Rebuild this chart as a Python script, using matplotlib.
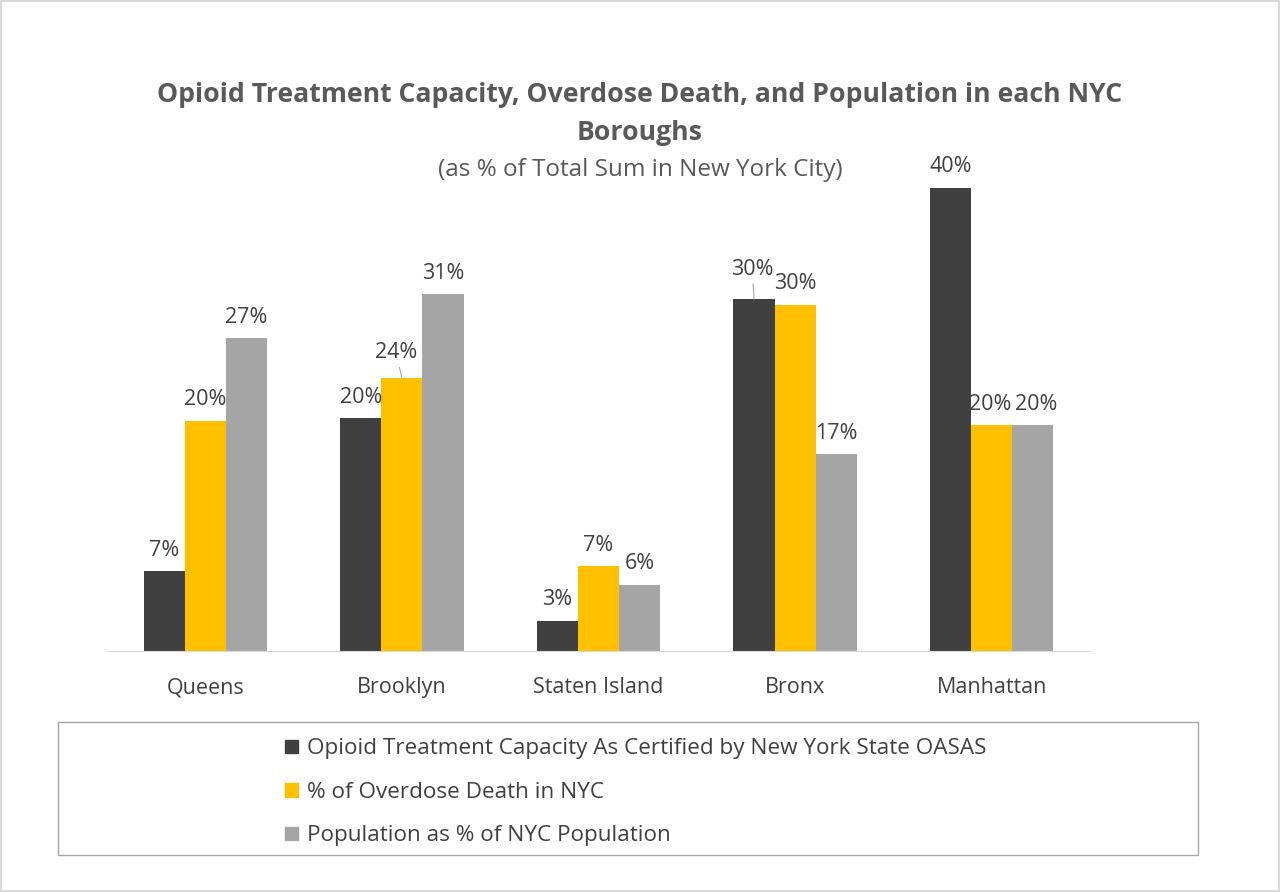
import matplotlib.pyplot as plt
import numpy as np
from matplotlib.patches import Rectangle, Patch

boroughs = ["Queens", "Brooklyn", "Staten Island", "Bronx", "Manhattan"]
capacity = [6.9, 20.1, 2.6, 30.4, 40.0]
overdose = [19.9, 23.6, 7.3, 29.9, 19.5]
population = [27.0, 30.8, 5.7, 17.0, 19.5]
series_names = ["Opioid Treatment Capacity As Certified by New York State OASAS",
                "% of Overdose Death in NYC",
                "Population as % of NYC Population"]

plt.rcParams['font.family'] = ['Open Sans', 'DejaVu Sans']
colors = ["#404040", "#FFC000", "#A5A5A5"]
txt = "#404040"

fig = plt.figure(figsize=(12.8, 8.92), dpi=100)
ax = fig.add_axes([0.0836, 0.2702, 0.768, 0.584])

x = np.arange(len(boroughs))
w = 0.209
data = [capacity, overdose, population]
for i, (vals, c) in enumerate(zip(data, colors)):
    bars = ax.bar(x + (i - 1) * w, vals, w, color=c, label=series_names[i])
    for j, (b, v) in enumerate(zip(bars, vals)):
        cx = b.get_x() + b.get_width() / 2
        dx, dy, arrow = 0, 21, None
        if i == 1 and j == 1:
            dx, dy = -6, 25
            arrow = dict(arrowstyle='-', color='#A6A6A6', lw=0.8, shrinkA=1, shrinkB=0)
        if i == 0 and j == 3:
            dx, dy = -2, 30
            arrow = dict(arrowstyle='-', color='#A6A6A6', lw=0.8, shrinkA=1, shrinkB=0)
        if i == 1 and j == 4:
            dx = -2
        if i == 2 and j == 4:
            dx = 3
        ax.annotate(f"{v:.0f}%", (cx, v), xytext=(dx, dy),
                    textcoords='offset pixels', ha='center', va='center',
                    fontsize=15.5, color=txt, arrowprops=arrow)

ax.set_xlim(-0.5, 4.5)
ax.set_ylim(0, 45)
ax.set_yticks([])
ax.set_xticks(x)
ax.set_xticklabels(boroughs, fontsize=15.5, color=txt)
ax.tick_params(axis='x', length=0, pad=19)
for s in ['top', 'right', 'left']:
    ax.spines[s].set_visible(False)
ax.spines['bottom'].set_color('#D9D9D9')

fig.text(0.5, 1 - 95 / 892, "Opioid Treatment Capacity, Overdose Death, and Population in each NYC",
         ha='center', va='center', fontsize=19.2, fontweight='bold', color='#595959')
fig.text(0.5, 1 - 133 / 892, "Boroughs", ha='center', va='center',
         fontsize=19.2, fontweight='bold', color='#595959')
fig.text(0.5, 1 - 170 / 892, "(as % of Total Sum in New York City)", ha='center',
         va='center', fontsize=17.5, color='#595959')

# legend box
fig.patches.append(Rectangle((58 / 1280, 1 - 855 / 892), 1140 / 1280, 133 / 892,
                             transform=fig.transFigure, fill=False,
                             edgecolor='#A6A6A6', lw=1))
handles = [Patch(color=c) for c in colors]
fig.legend(handles, series_names, loc='upper left',
           bbox_to_anchor=(265 / 1280, 1 - 718 / 892), frameon=False,
           fontsize=16.2, labelcolor=txt, handlelength=0.55, handleheight=0.55,
           handletextpad=0.4, labelspacing=1.0)

# outer border
fig.patches.append(Rectangle((0.001, 0.001), 0.998, 0.998, transform=fig.transFigure,
                             fill=False, edgecolor='#D9D9D9', lw=1.5))

fig.savefig("out.png", dpi=100)
